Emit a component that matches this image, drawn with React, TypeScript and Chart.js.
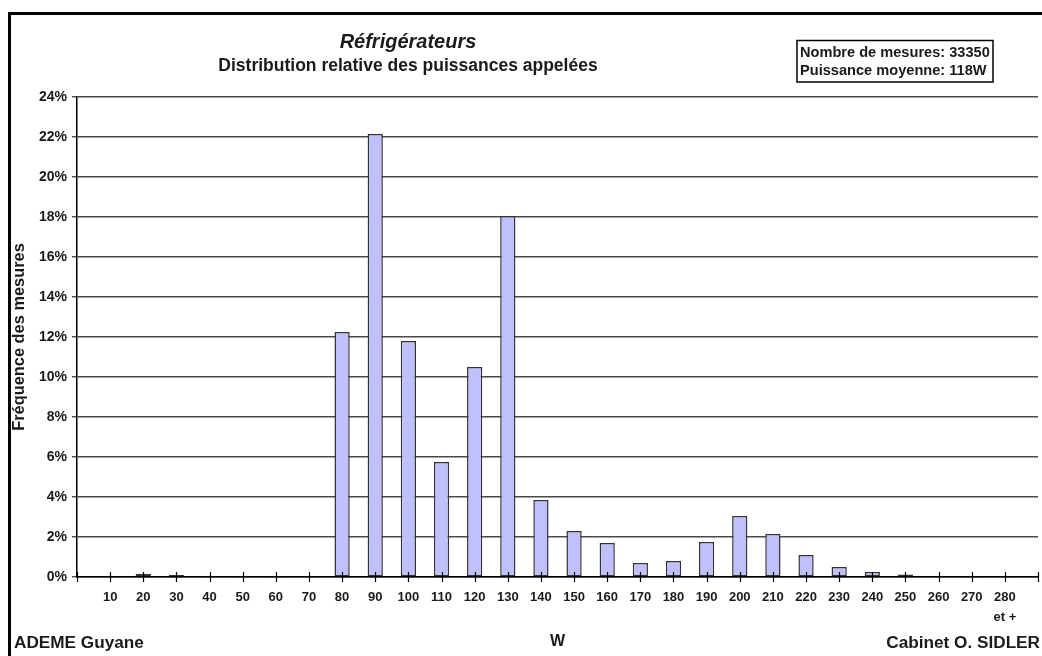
import React, { useEffect, useRef } from "react";
import { Chart, registerables } from "chart.js";

Chart.register(...registerables);

const categories: (string | string[])[] = [
  "10", "20", "30", "40", "50", "60", "70", "80", "90", "100",
  "110", "120", "130", "140", "150", "160", "170", "180", "190", "200",
  "210", "220", "230", "240", "250", "260", "270", ["280", "et +"],
];
const frequencies: number[] = [
  0.05, 0.15, 0.1, 0.05, 0.05, 0.05, 0.05, 12.25, 22.15, 11.8,
  5.75, 10.5, 18.05, 3.85, 2.3, 1.7, 0.7, 0.8, 1.75, 3.05,
  2.15, 1.1, 0.5, 0.25, 0.13, 0, 0.05, 0.05,
];
const yTicks: number[] = [0, 2, 4, 6, 8, 10, 12, 14, 16, 18, 20, 22, 24];

const titleText = "Réfrigérateurs";
const subtitleText = "Distribution relative des puissances appelées";
const infoLines = ["Nombre de mesures: 33350", "Puissance moyenne: 118W"];
const footerLeft = "ADEME Guyane";
const footerRight = "Cabinet O. SIDLER";
const xTitle = "W";
const yTitle = "Fréquence des mesures";

const FONT = '"Liberation Sans", Arial, sans-serif';
const INK = "#1a1a1a";

export default function App() {
  const ref = useRef<HTMLCanvasElement | null>(null);

  useEffect(() => {
    if (!ref.current) return;
    const labels = ["", ...categories, ""];
    const data = [null, ...frequencies, null];

    const decor = {
      id: "decor",
      beforeDraw(chart: any) {
        const ctx = chart.ctx;
        ctx.save();
        ctx.fillStyle = "#ffffff";
        ctx.fillRect(0, 0, chart.width, chart.height);
        ctx.strokeStyle = "#000";
        ctx.lineWidth = 3;
        ctx.beginPath();
        ctx.moveTo(8, 13.5);
        ctx.lineTo(1042, 13.5);
        ctx.moveTo(9.5, 12);
        ctx.lineTo(9.5, 656);
        ctx.stroke();
        ctx.restore();
      },
      afterDraw(chart: any) {
        const ctx = chart.ctx;
        ctx.save();
        ctx.fillStyle = INK;
        ctx.textAlign = "center";
        ctx.textBaseline = "middle";
        ctx.font = `italic bold 20px ${FONT}`;
        ctx.fillText(titleText, 408, 42);
        ctx.font = `bold 17.5px ${FONT}`;
        ctx.fillText(subtitleText, 408, 66);

        // info box
        ctx.strokeStyle = "#000";
        ctx.lineWidth = 1.5;
        ctx.strokeRect(797, 40.5, 196, 41.5);
        ctx.textAlign = "left";
        ctx.font = `bold 14.6px ${FONT}`;
        ctx.fillText(infoLines[0], 800, 53);
        ctx.fillText(infoLines[1], 800, 70.5);

        // footers
        ctx.font = `bold 17.2px ${FONT}`;
        ctx.fillText(footerLeft, 14, 643);
        ctx.textAlign = "right";
        ctx.fillText(footerRight, 1040, 643);

        // x tick marks crossing the axis
        const xs = chart.scales.x;
        const yBase = chart.chartArea.bottom;
        ctx.strokeStyle = "#000";
        ctx.lineWidth = 1.2;
        ctx.beginPath();
        for (let i = 0; i < xs.ticks.length; i++) {
          const px = Math.round(xs.getPixelForTick(i)) + 0.5;
          ctx.moveTo(px, yBase - 5);
          ctx.lineTo(px, yBase + 5);
        }
        ctx.stroke();
        ctx.restore();
      },
    };

    const chart = new Chart(ref.current, {
      type: "bar",
      data: {
        labels,
        datasets: [
          {
            data,
            backgroundColor: "#c0c0ff",
            borderColor: "#333333",
            borderWidth: 1.5,
            borderSkipped: false,
            categoryPercentage: 1,
            barPercentage: 0.46,
          },
        ],
      },
      options: {
        animation: false,
        responsive: false,
        maintainAspectRatio: false,
        events: [],
        layout: { padding: { top: 97, left: 0, right: 4, bottom: 0 } },
        plugins: {
          legend: { display: false },
          title: { display: false },
          tooltip: { enabled: false },
        },
        scales: {
          x: {
            type: "category",
            offset: false,
            grid: { display: false, drawTicks: false },
            border: { display: true, color: "#000", width: 1.5 },
            ticks: {
              autoSkip: false,
              maxRotation: 0,
              minRotation: 0,
              padding: 11,
              color: INK,
              font: { family: FONT, size: 13, weight: "bold", lineHeight: 1.5 },
            },
            title: {
              display: true,
              text: xTitle,
              color: INK,
              font: { family: FONT, size: 16, weight: "bold", lineHeight: 1.2 },
              padding: { top: 0, bottom: 5 },
            },
            afterFit(scale: any) {
              scale.height = 79;
              scale.paddingLeft = 0;
              scale.paddingRight = 0;
            },
          },
          y: {
            min: 0,
            max: 24,
            afterBuildTicks(scale: any) {
              scale.ticks = yTicks.map((v) => ({ value: v }));
            },
            grid: { color: "#4a4a4a", lineWidth: 1.4, tickLength: 5 },
            border: { display: true, color: "#000", width: 1.5 },
            ticks: {
              padding: 5,
              color: INK,
              font: { family: FONT, size: 14, weight: "bold" },
              callback: (v: any) => `${v}%`,
            },
            title: {
              display: true,
              text: yTitle,
              color: INK,
              font: { family: FONT, size: 16.4, weight: "bold", lineHeight: 1.2 },
              padding: { top: 10, bottom: 0 },
            },
            afterFit(scale: any) {
              scale.width = 77;
            },
          },
        },
      },
      plugins: [decor],
    });
    return () => chart.destroy();
  }, []);

  return (
    <div style={{ position: "fixed", left: 0, top: 0, width: 1042, height: 656, background: "#fff" }}>
      <canvas ref={ref} width={1042} height={656} style={{ display: "block", width: 1042, height: 656 }} />
    </div>
  );
}
